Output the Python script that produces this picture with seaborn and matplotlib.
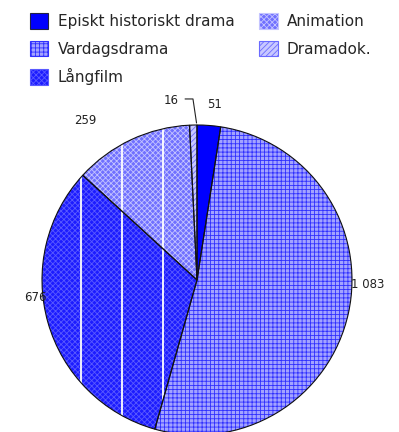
import matplotlib
matplotlib.use("Agg")
import matplotlib.pyplot as plt
from matplotlib.patches import Patch
import seaborn as sns

# Data
categories = ["Episkt historiskt drama", "Vardagsdrama", "Långfilm", "Animation", "Dramadok."]
values = [51, 1083, 676, 259, 16]
value_labels = ["51", "1 083", "676", "259", "16"]

# Styling per category: face colour, hatch pattern, hatch colour
faces = ["#0000ff", "#a3a3ff", "#1c1cff", "#7070ff", "#c8c8ff"]
hatches = ["", "++++", "xxxxxx", "xxxxxx", "//////"]
hatch_cols = ["#0000ff", "#3030ff", "#5a5aff", "#c4c4ff", "#6a6aff"]

sns.set_theme(style="white")
plt.rcParams["font.family"] = ["DejaVu Sans"]
plt.rcParams["hatch.linewidth"] = 0.6

fig = plt.figure(figsize=(3.99, 4.32), dpi=100)
W, H = 399, 432
cx, cy, r = 197, 280, 155
ax = fig.add_axes([(cx - r) / W, (H - cy - r) / H, 2 * r / W, 2 * r / H])

# Filled, hatched wedges
wedges, _ = ax.pie(values, startangle=90, counterclock=False,
                   wedgeprops=dict(linewidth=0))
for w, fc, h, hc in zip(wedges, faces, hatches, hatch_cols):
    w.set_facecolor(fc)
    w.set_edgecolor(hc)
    w.set_hatch(h)
    w.set_clip_on(False)

# White vertical stripes inside Långfilm and Animation
for idx in (2, 3):
    lc = ax.vlines([-0.748, -0.484, -0.219], -1.1, 1.1, colors="white", lw=1.3, zorder=3)
    lc.set_clip_path(wedges[idx])

# Black outlines on top
outl, _ = ax.pie(values, startangle=90, counterclock=False,
                 wedgeprops=dict(fill=False, edgecolor="#111111", linewidth=0.8))
for w in outl:
    w.set_zorder(4)
    w.set_clip_on(False)

ax.set_xlim(-1, 1)
ax.set_ylim(-1, 1)
ax.set_aspect("equal")
ax.axis("off")

# Value labels
label_pos = [(0.113, 1.135), (1.103, -0.026), (-1.045, -0.116), (-0.723, 1.026), (-0.168, 1.161)]
for txt, (x, y) in zip(value_labels, label_pos):
    ax.text(x, y, txt, ha="center", va="center", fontsize=8.5, color="#222222")

# Leader line for the small slice
ax.plot([-0.077, -0.026, -0.003], [1.168, 1.168, 1.013], color="#222222", lw=0.8, clip_on=False)

# Legend
handles = [Patch(facecolor=fc, edgecolor=hc if h else "#222244", hatch=h, linewidth=0.8)
           for fc, h, hc in zip(faces, hatches, hatch_cols)]
fig.legend(handles, categories, loc="upper left", bbox_to_anchor=(24 / W, 1 - 7 / H),
           ncol=2, frameon=False, fontsize=11, handlelength=1.2, handleheight=1.2,
           handletextpad=0.6, labelspacing=0.75, columnspacing=1.63, borderaxespad=0)

fig.savefig("out.png", dpi=100)
